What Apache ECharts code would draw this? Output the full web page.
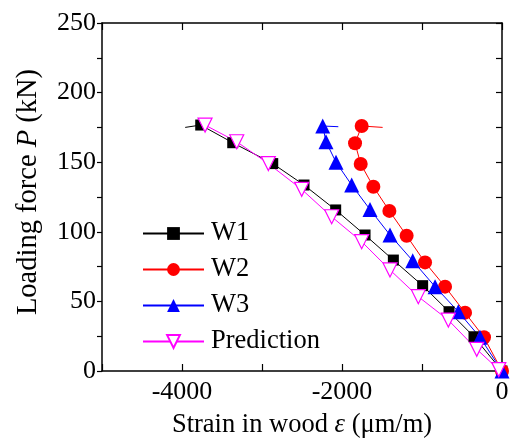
<!DOCTYPE html>
<html><head><meta charset="utf-8">
<script src="https://cdn.jsdelivr.net/npm/echarts@6/dist/echarts.min.js"></script>
<style>html,body{margin:0;padding:0;background:#fff}#c{width:513px;height:448px}</style>
</head><body><div id="c"></div>
<script>
// Data (strain in µm/m, load in kN)
var w1Strain = [0, -350, -662, -992, -1358, -1712, -2079, -2475, -2866, -3366, -3766];
var w1Load   = [0, 24.6, 42.6, 61.3, 79.7, 97.7, 115.7, 133.6, 149, 164, 176.7];
var w1Tail   = [-3960, 175];
var w2Strain = [0, -225, -462, -712, -962, -1192, -1408, -1608, -1766, -1837, -1754];
var w2Load   = [0, 24.2, 41.9, 60.6, 78, 97.2, 115, 132.4, 148.7, 163.6, 176];
var w2Tail   = [-1492, 175];
var w3Strain = [0, -275, -546, -837, -1116, -1400, -1650, -1879, -2075, -2200, -2241];
var w3Load   = [0, 24.2, 42.6, 60.6, 79.2, 97.7, 116, 133.6, 150, 164.7, 176];
var w3Tail   = [-2046, 175.5];
var prStrain = [-40, -316, -671, -1046, -1400, -1754, -2129, -2504, -2921, -3316, -3712];
var prLoad   = [1, 15.6, 36.6, 53.4, 72.6, 92.9, 110.8, 130.5, 149, 164.7, 176.7];
var xTicks = [-4000, -2000, 0];
var yTicks = [0, 50, 100, 150, 200, 250];

function pts(xs, ys, tail) {
  var d = xs.map(function (x, i) { return [x, ys[i]]; });
  if (tail) d.push({ value: tail, symbol: 'none' });
  return d;
}
var F = 'Liberation Serif';
var chart = echarts.init(document.getElementById('c'));
var axisLineStyle = { color: '#000', width: 1.5 };
chart.setOption({
  animation: false,
  grid: { left: 102, right: 11, top: 23, bottom: 77 },
  legend: {
    orient: 'vertical', left: 142, top: 220, padding: 0, itemWidth: 61, itemHeight: 16, itemGap: 9,
    textStyle: { fontFamily: F, fontSize: 26.5, color: '#000', padding: [0, 0, 0, 2] },
    data: ['W1', 'W2', 'W3', 'Prediction']
  },
  xAxis: [{
    type: 'value', min: -5000, max: 0, interval: 1000,
    axisLine: { onZero: false, lineStyle: axisLineStyle },
    axisTick: { inside: true, length: 7, lineStyle: { color: '#000', width: 1.2 } },
    axisLabel: { margin: 8, fontFamily: F, fontSize: 26, color: '#000',
      formatter: function (v) { return xTicks.indexOf(v) >= 0 ? String(v) : ''; } },
    splitLine: { show: false },
    name: 'Strain in wood {i|ε} (μm/m)', nameLocation: 'middle', nameGap: 41,
    nameTextStyle: { fontFamily: F, fontSize: 26.5, color: '#000',
      rich: { i: { fontFamily: F, fontSize: 26.5, fontStyle: 'italic', color: '#000' } } }
  }, {
    type: 'value', position: 'top', min: -5000, max: 0, interval: 1000,
    axisLine: { onZero: false, lineStyle: axisLineStyle },
    axisTick: { inside: true, length: 7, lineStyle: { color: '#000', width: 1.2 } },
    axisLabel: { show: false }, splitLine: { show: false }
  }],
  yAxis: [{
    type: 'value', min: 0, max: 250, interval: 25,
    axisLine: { onZero: false, lineStyle: axisLineStyle },
    axisTick: { inside: false, length: 5, lineStyle: { color: '#000', width: 1.2 } },
    axisLabel: { margin: 6, fontFamily: F, fontSize: 26, color: '#000',
      formatter: function (v) { return yTicks.indexOf(v) >= 0 ? String(v) : ''; } },
    splitLine: { show: false },
    name: 'Loading force {i|P} (kN)', nameLocation: 'middle', nameGap: 59,
    nameTextStyle: { fontFamily: F, fontSize: 28.5, color: '#000', padding: [0, 0, 0, 10],
      rich: { i: { fontFamily: F, fontSize: 28.5, fontStyle: 'italic', color: '#000' } } }
  }, {
    type: 'value', position: 'right', min: 0, max: 250, interval: 25,
    axisLine: { onZero: false, lineStyle: axisLineStyle },
    axisTick: { inside: true, length: 6, lineStyle: { color: '#000', width: 1.2 } },
    axisLabel: { show: false }, splitLine: { show: false }
  }],
  series: [
    { name: 'W1', type: 'line', data: pts(w1Strain, w1Load, w1Tail), symbol: 'rect', symbolSize: 11,
      lineStyle: { color: '#000', width: 1 }, itemStyle: { color: '#000' } },
    { name: 'W2', type: 'line', data: pts(w2Strain, w2Load, w2Tail), symbol: 'circle', symbolSize: 14,
      lineStyle: { color: '#ff0000', width: 1 }, itemStyle: { color: '#ff0000' } },
    { name: 'W3', type: 'line', data: pts(w3Strain, w3Load, w3Tail), symbol: 'triangle', symbolSize: 15,
      lineStyle: { color: '#0000ff', width: 1 }, itemStyle: { color: '#0000ff' } },
    { name: 'Prediction', type: 'line', data: pts(prStrain, prLoad), symbol: 'triangle', symbolSize: 14,
      symbolRotate: 180, showAllSymbol: true,
      lineStyle: { color: '#ff00ff', width: 1 }, itemStyle: { color: '#fff', borderColor: '#ff00ff', borderWidth: 1.2 } }
  ]
});
</script></body></html>
